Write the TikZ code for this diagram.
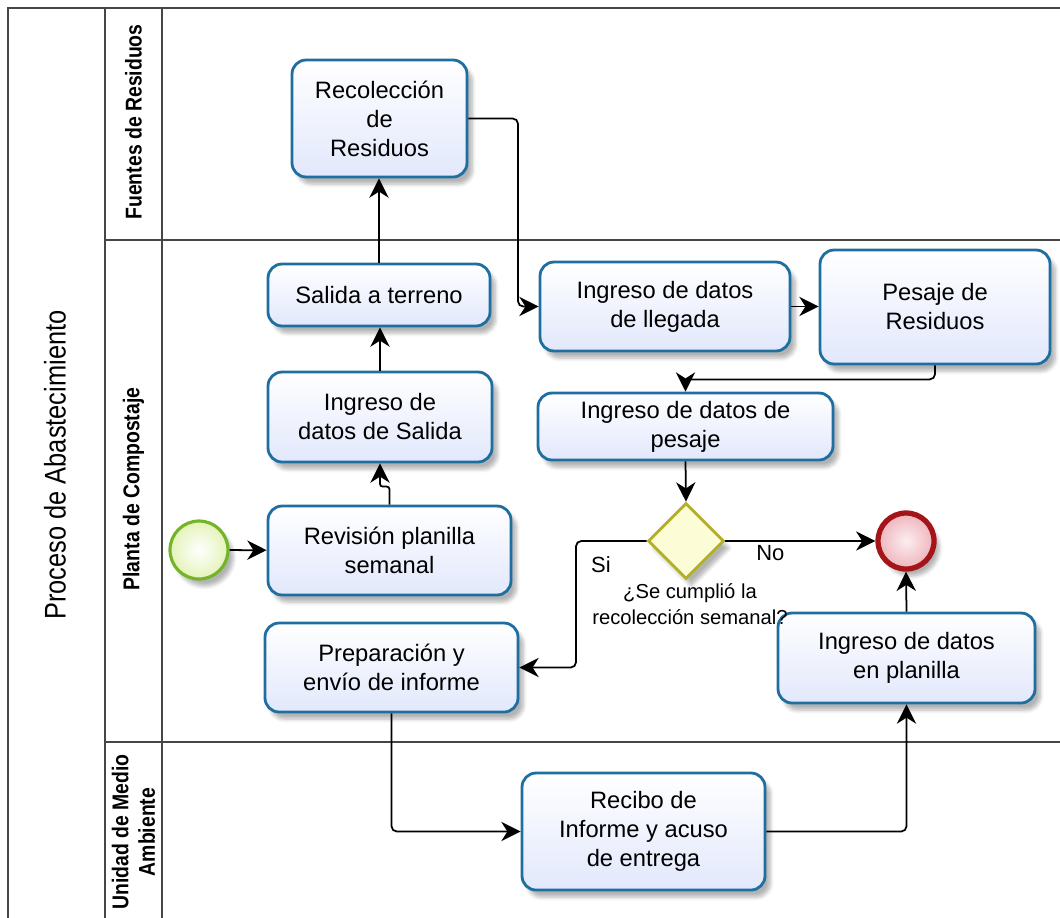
\documentclass[tikz,border=0pt]{standalone}
\usepackage{fontspec}
\setmainfont{Liberation Sans}
\newfontfamily\lanefont[FakeStretch=0.85]{Liberation Sans}
\usepackage{tikz}
\usetikzlibrary{arrows.meta,shapes.geometric,shadows.blur}

\definecolor{taskblue}{RGB}{30,110,160}
\definecolor{taskfill}{RGB}{226,232,252}
\definecolor{startgreen}{RGB}{115,180,40}
\definecolor{startfill}{RGB}{228,243,185}
\definecolor{endred}{RGB}{165,20,25}
\definecolor{endfill}{RGB}{238,180,188}
\definecolor{gwolive}{RGB}{180,175,40}
\definecolor{gwfill}{RGB}{252,252,215}
\definecolor{laneline}{RGB}{70,70,70}

\tikzset{
    poolline/.style={draw=laneline, line width=0.9pt},
    lanetitle/.style={rotate=90, align=center, font=\lanefont\bfseries\fontsize{13}{15}\selectfont},
    pooltitle/.style={rotate=90, font=\lanefont\fontsize{17}{19}\selectfont},
    softshadow/.style={blur shadow={shadow xshift=3pt, shadow yshift=-4pt, shadow blur steps=6, shadow opacity=30}},
    task/.style 2 args={draw=taskblue, line width=1.6pt, rounded corners=8pt,
        top color=white, bottom color=taskfill, softshadow,
        minimum width=#1*0.02cm, minimum height=#2*0.02cm, inner sep=0pt,
        align=center, font=\fontsize{13.5}{16.5}\selectfont},
    startevent/.style={circle, draw=startgreen, line width=1.8pt, inner color=white,
        outer color=startfill, minimum size=58*0.02cm, inner sep=0pt, softshadow},
    endevent/.style={circle, draw=endred, line width=3pt, inner color={rgb,255:red,252;green,238;blue,240},
        outer color=endfill, minimum size=56*0.02cm, inner sep=0pt, softshadow},
    gateway/.style={diamond, aspect=1, draw=gwolive, line width=1.6pt, fill=gwfill,
        minimum width=76*0.02cm, minimum height=76*0.02cm, inner sep=0pt, softshadow},
    flow/.style={draw=black, line width=1pt, rounded corners=3pt,
        -{Stealth[length=11pt, width=11pt, inset=3.5pt]}},
    flowtext/.style={font=\fontsize{12.5}{15}\selectfont, inner sep=2pt},
    gwtext/.style={align=center, font=\fontsize{11.5}{15}\selectfont}
}

\begin{document}
\begin{tikzpicture}[x=0.02cm, y=-0.02cm]

    \useasboundingbox (0,0) rectangle (1060,917);

    % pool and lanes
    \draw[poolline] (8,940) -- (8,8) -- (1080,8);
    \draw[poolline] (105,8) -- (105,940);
    \draw[poolline] (162,8) -- (162,940);
    \draw[poolline] (105,240) -- (1080,240);
    \draw[poolline] (105,742) -- (1080,742);

    \node[pooltitle] (pool) at (55,465) {Proceso de Abastecimiento};
    \node[lanetitle] (fuentes) at (133.5,122) {Fuentes de Residuos};
    \node[lanetitle] (planta) at (133.5,489) {Planta de Compostaje};
    \node[lanetitle] (unidad) at (133.5,832) {Unidad de Medio\\Ambiente};

    % activities
    \node[task={175}{117}] (rec) at (379.5,118.5) {Recolección\\de\\Residuos};
    \node[task={222}{62}] (sal) at (379,295) {Salida a terreno};
    \node[task={224}{90}] (ingsal) at (380,417) {Ingreso de\\datos de Salida};
    \node[task={243}{89}] (rev) at (389.5,550.5) {Revisión planilla\\semanal};
    \node[task={253}{89}] (prep) at (391.5,667.5) {Preparación y\\envío de informe};
    \node[task={250}{89}] (lleg) at (665,306.5) {Ingreso de datos\\de llegada};
    \node[task={230}{114}] (pes) at (935,307) {Pesaje de\\Residuos};
    \node[task={295}{67}] (ingpes) at (685.5,426.5) {Ingreso de datos de\\pesaje};
    \node[task={257}{90}] (plan) at (906.5,658) {Ingreso de datos\\en planilla};
    \node[task={243}{117}] (recibo) at (643.5,831.5) {Recibo de\\Informe y acuso\\de entrega};

    % events and gateway
    \node[startevent] (start) at (199,550) {};
    \node[endevent] (fin) at (906,541) {};
    \node[gateway] (gw) at (686,541) {};
    \node[gwtext] (pregunta) at (690,604) {¿Se cumplió la\\recolección semanal?};

    % sequence flows
    \draw[flow] (start) -- (rev);
    \draw[flow, rounded corners=1.5pt] (rev.north) -- ++(0,-18) -| (ingsal.south);
    \draw[flow] (ingsal.north) -- (ingsal.north |- sal.south);
    \draw[flow] (sal.north) -- (sal.north |- rec.south);
    \draw[flow] (rec.east) -- (518,118.5) |- (lleg.west);
    \draw[flow] (lleg.east) -- (lleg.east -| pes.west);
    \draw[flow] (pes.south) -- ++(0,14) -| (ingpes.north);
    \draw[flow] (ingpes.south) -- (gw.north);
    \draw[flow] (gw.east) -- node[flowtext, pos=0.3, below] (no) {No} (fin.west);
    \draw[flow] (gw.west) -- (576,541) |- (prep.east);
    \node[flowtext] (si) at (601,565) {Si};
    \draw[flow] (prep.south) |- (recibo.west);
    \draw[flow] (recibo.east) -| (plan.south);
    \draw[flow] (plan.north) -- (fin.south);

\end{tikzpicture}
\end{document}
